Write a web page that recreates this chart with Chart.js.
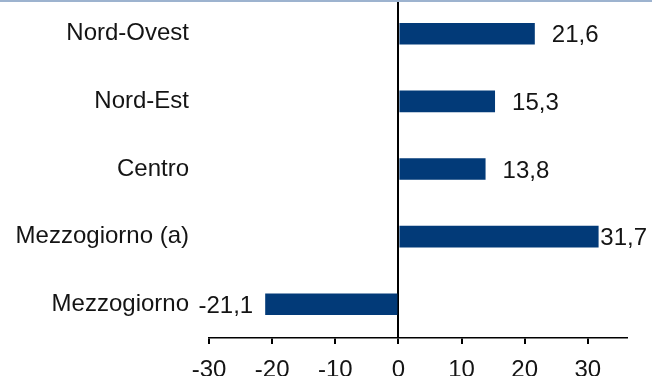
<!DOCTYPE html>
<html>
<head>
<meta charset="utf-8">
<script src="https://cdn.jsdelivr.net/npm/chart.js@4.4.1/dist/chart.umd.min.js"></script>
<style>
  html, body { margin: 0; padding: 0; background: #fff; }
  #chart { display: block; }
</style>
</head>
<body>
<canvas id="chart" width="652" height="376"></canvas>
<script>
// ===================== DATA =====================
const categories = ['Nord-Ovest', 'Nord-Est', 'Centro', 'Mezzogiorno (a)', 'Mezzogiorno'];
const values = [21.6, 15.3, 13.8, 31.7, -21.1];
const tickValues = [-30, -20, -10, 0, 10, 20, 30];

const barColor = '#023a78';
const textColor = '#141414';
const fontFamily = '"Liberation Sans", Arial, sans-serif';

// formato italiano con la virgola
function fmt(v) {
  return v.toFixed(1).replace('.', ',');
}

// ===================== PLUGINS =====================

// etichette dei valori accanto alle barre
const valueLabels = {
  id: 'valueLabels',
  afterDatasetsDraw(chart) {
    const ctx = chart.ctx;
    const meta = chart.getDatasetMeta(0);
    ctx.save();
    ctx.font = '24px ' + fontFamily;
    ctx.fillStyle = textColor;
    ctx.textBaseline = 'middle';
    ctx.textAlign = 'left';
    meta.data.forEach((bar, i) => {
      const v = values[i];
      const txt = fmt(v);
      const w = ctx.measureText(txt).width;
      let x;
      if (v >= 0) {
        // non uscire dal bordo destro
        x = Math.min(bar.x + 17, chart.width - 5 - w);
      } else {
        x = bar.x - 12 - w;
      }
      ctx.fillText(txt, x, bar.y + 2);
    });
    ctx.restore();
  }
};

// linea sottile in alto
const topLine = {
  id: 'topLine',
  afterDraw(chart) {
    const ctx = chart.ctx;
    ctx.save();
    ctx.strokeStyle = '#9db3cf';
    ctx.lineWidth = 2;
    ctx.beginPath();
    ctx.moveTo(0, 1);
    ctx.lineTo(chart.width, 1);
    ctx.stroke();
    ctx.restore();
  }
};

// ===================== CHART =====================
new Chart(document.getElementById('chart'), {
  type: 'bar',
  data: {
    labels: categories,
    datasets: [{
      data: values,
      backgroundColor: barColor,
      borderWidth: 0,
      barPercentage: 0.32,
      categoryPercentage: 1.0
    }]
  },
  options: {
    indexAxis: 'y',
    responsive: false,
    animation: false,
    layout: { padding: { left: 0, right: 25, top: 0, bottom: 0 } },
    plugins: {
      legend: { display: false },
      tooltip: { enabled: false }
    },
    scales: {
      x: {
        min: -30,
        max: 36.2,
        afterBuildTicks(axis) {
          axis.ticks = tickValues.map(v => ({ value: v }));
        },
        afterFit(axis) {
          axis.height = 38;
          axis.paddingLeft = 0;
          axis.paddingRight = 0;
        },
        border: { display: true, color: '#000', width: 1.5 },
        grid: {
          drawOnChartArea: true,
          drawTicks: true,
          tickLength: 6,
          tickColor: '#000',
          lineWidth: 2,
          color: ctx => (ctx.tick && ctx.tick.value === 0 ? '#000' : 'rgba(0,0,0,0)')
        },
        ticks: {
          color: textColor,
          font: { family: fontFamily, size: 24 },
          padding: 12,
          maxRotation: 0,
          callback: v => String(v)
        }
      },
      y: {
        afterFit(axis) {
          axis.width = 209;
          axis.paddingTop = 0;
          axis.paddingBottom = 0;
        },
        border: { display: false },
        grid: { display: false, drawTicks: false },
        ticks: {
          color: textColor,
          font: { family: fontFamily, size: 24 },
          padding: 20
        }
      }
    }
  },
  plugins: [valueLabels, topLine]
});
</script>
</body>
</html>
